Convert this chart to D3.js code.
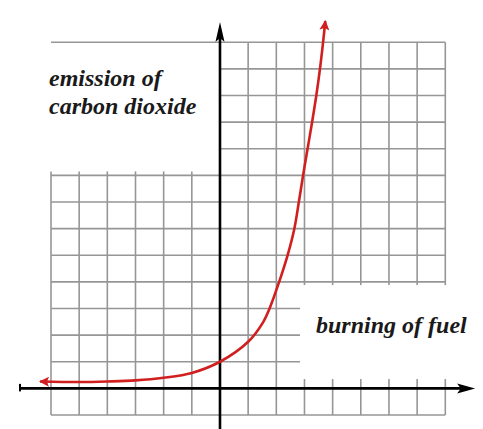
<!DOCTYPE html>
<html>
<head>
<meta charset="utf-8">
<script src="https://cdn.jsdelivr.net/npm/d3@7"></script>
<style>
  html, body { margin: 0; padding: 0; background: #fff; }
  svg { display: block; }
</style>
</head>
<body>
<svg id="chart" width="483" height="429"></svg>
<script>
// ---- data ----
const gridX = [-6, -5, -4, -3, -2, -1, 0, 1, 2, 3, 4, 5, 6, 7, 8];
const gridY = [-1, 0, 1, 2, 3, 4, 5, 6, 7, 8, 9, 10, 11, 12, 13];
const curveX = [-6.39, -5, -4, -3, -2, -1, 0, 1, 1.54, 1.76, 2.10, 2.40, 2.64, 2.80, 2.95, 3.11, 3.27, 3.42, 3.55, 3.66, 3.74];
const curveY = [0.26, 0.24, 0.26, 0.30, 0.40, 0.58, 1.0, 1.75, 2.5, 3.0, 4.0, 5.0, 6.0, 7.0, 8.0, 9.0, 10.0, 11.0, 12.0, 13.0, 13.8];
const yLabelLines = ["emission of", "carbon dioxide"];
const xLabelText = "burning of fuel";

// ---- scales ----
const W = 483, H = 429;
const x = d3.scaleLinear().domain([-6, 8]).range([51, 445.3]);
const y = d3.scaleLinear().domain([-1, 13]).range([415, 42.3]);

const svg = d3.select("#chart");
const gridColor = "#969696";

// grid
const g = svg.append("g").attr("stroke", gridColor).attr("stroke-width", 1.6).attr("fill", "none");
g.selectAll("line.v").data(gridX.filter(d => d !== 0)).join("line")
  .attr("x1", d => x(d)).attr("x2", d => x(d))
  .attr("y1", d => d < 0 ? y(8.15) : y(13))
  .attr("y2", y(-1));
g.selectAll("line.h").data(gridY.filter(d => d !== 0)).join("line")
  .attr("x1", d => (d <= 8 || d === 13) ? x(-6) : x(0))
  .attr("x2", x(8))
  .attr("y1", d => y(d)).attr("y2", d => y(d));

// label box for x label (white background hides grid)
svg.append("rect")
  .attr("x", x(2.84)).attr("y", y(3.88))
  .attr("width", W - x(2.84)).attr("height", y(0.35) - y(3.88))
  .attr("fill", "#fff");

// axes
const axisColor = "#000";
const ax = svg.append("g");
ax.append("line")
  .attr("x1", x(-7.1)).attr("x2", x(8.6))
  .attr("y1", y(0)).attr("y2", y(0))
  .attr("stroke", axisColor).attr("stroke-width", 2.6);
ax.append("line")
  .attr("x1", x(-7.1)).attr("x2", x(-7.1))
  .attr("y1", y(0) - 4.5).attr("y2", y(0) + 3)
  .attr("stroke", axisColor).attr("stroke-width", 2);
ax.append("path")
  .attr("d", `M${x(9.06)},${y(0)} L${x(8.42)},${y(0) - 5} L${x(8.55)},${y(0)} L${x(8.42)},${y(0) + 5} Z`)
  .attr("fill", axisColor);
ax.append("line")
  .attr("x1", x(0)).attr("x2", x(0))
  .attr("y1", y(13.2)).attr("y2", H)
  .attr("stroke", axisColor).attr("stroke-width", 2.6);
ax.append("path")
  .attr("d", `M${x(0)},${y(13.76)} L${x(0) - 4.5},${y(13.02)} L${x(0)},${y(13.15)} L${x(0) + 4.5},${y(13.02)} Z`)
  .attr("fill", axisColor);

// red curve with arrowheads
const red = "#d11f1f";
const defs = svg.append("defs");
defs.append("marker")
  .attr("id", "arrowRed")
  .attr("viewBox", "0 0 10 10")
  .attr("refX", 9).attr("refY", 5)
  .attr("markerUnits", "userSpaceOnUse")
  .attr("markerWidth", 18).attr("markerHeight", 10)
  .attr("orient", "auto-start-reverse")
  .append("path").attr("d", "M0,0 L10,5 L0,10 L2,5 Z").attr("fill", red);

const pts = curveX.map((d, i) => [d, curveY[i]]);
const line = d3.line().x(d => x(d[0])).y(d => y(d[1])).curve(d3.curveCatmullRom.alpha(0.5));
svg.append("path")
  .datum(pts)
  .attr("d", line)
  .attr("fill", "none")
  .attr("stroke", red)
  .attr("stroke-width", 2.6)
  .attr("marker-start", "url(#arrowRed)")
  .attr("marker-end", "url(#arrowRed)");

// labels
function styleLabel(sel) {
  sel.style("font-family", '"Liberation Serif", serif')
    .style("font-style", "italic")
    .style("font-weight", "bold")
    .style("font-size", "24px")
    .attr("fill", "#1a1a1a");
}
svg.append("g").selectAll("text").data(yLabelLines).join("text")
  .attr("x", 49)
  .attr("y", (d, i) => 85.5 + i * 28)
  .call(styleLabel)
  .text(d => d);
svg.append("text")
  .attr("x", 316).attr("y", 333.3)
  .call(styleLabel)
  .text(xLabelText);
</script>
</body>
</html>
